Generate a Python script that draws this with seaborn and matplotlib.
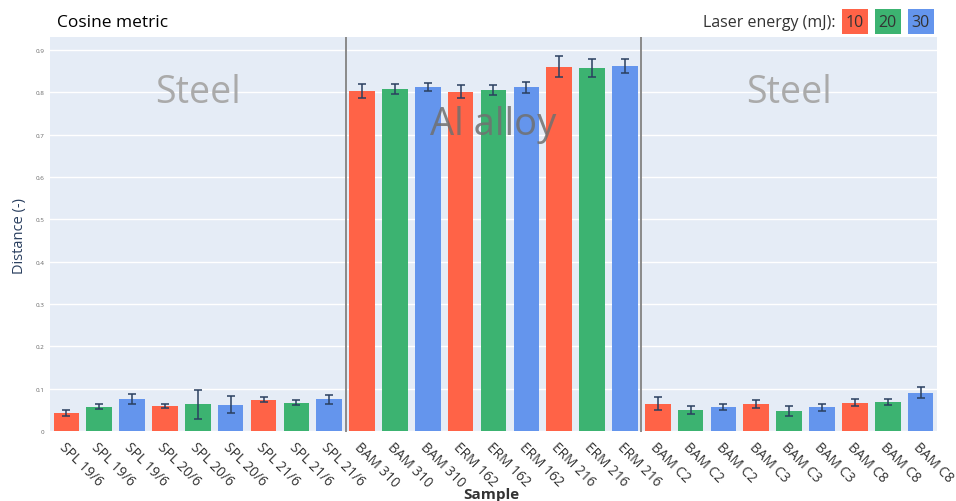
import pandas as pd
import matplotlib.pyplot as plt
from matplotlib.patches import Rectangle
import seaborn as sns

# ================================
# DATA
# ================================
samples = ["SPL 19/6", "SPL 19/6", "SPL 19/6", "SPL 20/6", "SPL 20/6", "SPL 20/6",
           "SPL 21/6", "SPL 21/6", "SPL 21/6",
           "BAM 310", "BAM 310", "BAM 310", "ERM 162", "ERM 162", "ERM 162",
           "ERM 216", "ERM 216", "ERM 216",
           "BAM C2", "BAM C2", "BAM C2", "BAM C3", "BAM C3", "BAM C3",
           "BAM C8", "BAM C8", "BAM C8"]
energy = [10, 20, 30] * 9
distance = [0.043, 0.058, 0.075, 0.059, 0.063, 0.062, 0.074, 0.067, 0.075,
            0.803, 0.808, 0.812, 0.801, 0.806, 0.812, 0.860, 0.857, 0.862,
            0.065, 0.050, 0.056, 0.064, 0.048, 0.056, 0.067, 0.069, 0.091]
error = [0.008, 0.0055, 0.012, 0.005, 0.035, 0.020, 0.006, 0.006, 0.010,
         0.017, 0.012, 0.010, 0.015, 0.012, 0.013, 0.025, 0.021, 0.017,
         0.015, 0.010, 0.007, 0.010, 0.0115, 0.009, 0.0087, 0.007, 0.0135]
materials = ["Steel", "Al alloy", "Steel"]
energy_levels = [10, 20, 30]
colors = ["tomato", "mediumseagreen", "cornflowerblue"]

df = pd.DataFrame({"pos": list(range(len(samples))), "Sample": samples,
                   "energy": energy, "distance": distance, "err": error})

plt.rcParams["font.family"] = ["Open Sans", "DejaVu Sans"]

# ================================
# BAR CHART
# ================================
fig = plt.figure(figsize=(9.56, 5.02), dpi=100)
ax = fig.add_axes([0.0523, 0.1375, 0.9278, 0.7865])
ax.set_facecolor("#E5ECF6")

palette = dict(zip(energy_levels, colors))
sns.barplot(data=df, x="pos", y="distance", hue="energy", palette=palette,
            dodge=False, width=0.78, errorbar=None, legend=False, ax=ax,
            saturation=1, zorder=2)
ax.errorbar(df["pos"], df["distance"], yerr=df["err"], fmt="none",
            ecolor="#2a3f5f", elinewidth=1.1, capsize=2.8, capthick=1.1, zorder=3)

ax.set_xlim(-0.5, len(samples) - 0.5)
ax.set_ylim(-0.002, 0.93)
ax.set_yticks([i / 10 for i in range(10)])
ax.set_yticklabels(["0"] + [f"{i / 10:.1f}" for i in range(1, 10)])
ax.tick_params(axis="y", labelsize=4.5, labelcolor="#666666", length=0, pad=4)
ax.set_xticks(df["pos"])
ax.set_xticklabels(df["Sample"], rotation=-45, ha="left", va="top",
                   rotation_mode="anchor", fontsize=9.8, color="#333333")
ax.tick_params(axis="x", length=0, pad=5)
ax.grid(axis="y", color="white", lw=1, zorder=0)
ax.set_axisbelow(True)
for s in ax.spines.values():
    s.set_visible(False)

# group separators and material labels
n_groups = len(materials)
per_group = len(samples) // n_groups
for g in range(1, n_groups):
    ax.axvline(g * per_group - 0.5, color="#8a8a8a", lw=1.4, zorder=4)
for g, mat in enumerate(materials):
    cx = g * per_group + (per_group - 1) / 2
    if mat == "Steel":
        ax.text(cx, 0.80, mat, ha="center", va="center", fontsize=27,
                color="#aaaaaa", zorder=5)
    else:
        ax.text(cx, 0.725, mat, ha="center", va="center", fontsize=27.5,
                color="#707070", alpha=0.85, zorder=5)

ax.set_xlabel("Sample", fontsize=11, fontweight="bold", color="#333333")
ax.set_ylabel("Distance (-)", fontsize=10.5, color="#2a3f5f")
ax.xaxis.set_label_coords(0.498, -0.14)
ax.yaxis.set_label_coords(-0.026, 0.5)

fig.text(0.06, 0.955, "Cosine metric", fontsize=12.5, color="black", va="center")

# legend
fig.text(0.874, 0.955, "Laser energy (mJ):", fontsize=11.5, color="#333333",
         ha="right", va="center")
box_w, box_h = 0.0272, 0.05
for i, (lvl, c) in enumerate(zip(energy_levels, colors)):
    x0 = 0.8805 + i * 0.0345
    fig.patches.append(Rectangle((x0, 0.93), box_w, box_h, transform=fig.transFigure,
                                 facecolor=c, edgecolor="none"))
    fig.text(x0 + box_w / 2, 0.955, str(lvl), fontsize=11.5, color="#333333",
             ha="center", va="center")

plt.savefig("out.png", dpi=100)
